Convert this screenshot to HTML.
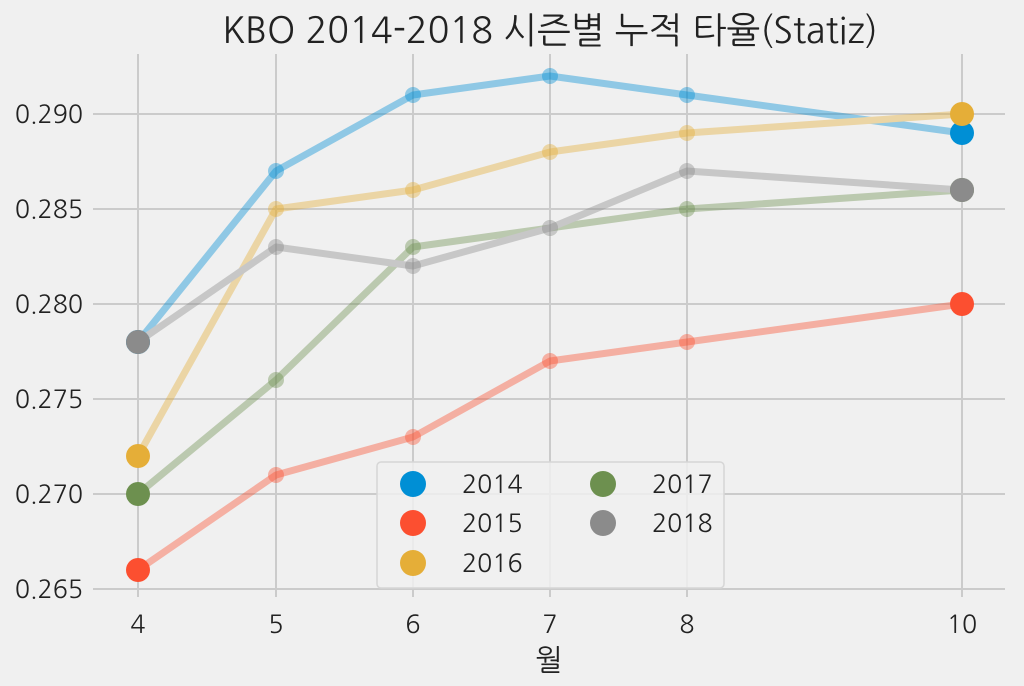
<!DOCTYPE html><html><head><meta charset="utf-8"><style>body{margin:0;background:#f0f0f0}svg{display:block}text{font-family:"NanumGothic","Liberation Sans","Noto Sans CJK KR",sans-serif;fill:#222}</style></head><body>
<svg width="1024" height="686" viewBox="0 0 1024 686">
<rect width="1024" height="686" fill="#f0f0f0"/>
<g stroke="#cbcbcb" stroke-width="2">
<line x1="93" x2="1005" y1="114" y2="114"/><line x1="93" x2="1005" y1="209" y2="209"/><line x1="93" x2="1005" y1="304" y2="304"/><line x1="93" x2="1005" y1="399" y2="399"/><line x1="93" x2="1005" y1="494" y2="494"/><line x1="93" x2="1005" y1="589" y2="589"/>
<line x1="138" x2="138" y1="54" y2="597"/><line x1="276" x2="276" y1="54" y2="597"/><line x1="413" x2="413" y1="54" y2="597"/><line x1="550" x2="550" y1="54" y2="597"/><line x1="687" x2="687" y1="54" y2="597"/><line x1="962" x2="962" y1="54" y2="597"/>
</g>
<g font-size="25" text-anchor="end"><text x="83" y="123">0.290</text><text x="83" y="218">0.285</text><text x="83" y="313">0.280</text><text x="83" y="408">0.275</text><text x="83" y="503">0.270</text><text x="83" y="598">0.265</text></g>
<g font-size="25" text-anchor="middle"><text x="138" y="633">4</text><text x="276" y="633">5</text><text x="413" y="633">6</text><text x="550" y="633">7</text><text x="687" y="633">8</text><text x="962" y="633">10</text>
<text x="549" y="670" font-size="29">월</text>
<text x="550" y="43" font-size="36">KBO 2014-2018 시즌별 누적 타율(Statiz)</text></g>
<g fill="none" stroke-width="7" stroke-linejoin="round" opacity="0.4">
<polyline stroke="#008fd5" points="138,342 276,171 413,95 550,76 687,95 962,133"/>
<polyline stroke="#fc4f30" points="138,570 276,475 413,437 550,361 687,342 962,304"/>
<polyline stroke="#e5ae38" points="138,456 276,209 413,190 550,152 687,133 962,114"/>
<polyline stroke="#6d904f" points="138,494 276,380 413,247 550,228 687,209 962,190"/>
<polyline stroke="#8b8b8b" points="138,342 276,247 413,266 550,228 687,171 962,190"/>
</g>
<g opacity="0.4">
<g fill="#008fd5"><circle cx="276" cy="171" r="8"/><circle cx="413" cy="95" r="8"/><circle cx="550" cy="76" r="8"/><circle cx="687" cy="95" r="8"/></g>
<g fill="#fc4f30"><circle cx="276" cy="475" r="8"/><circle cx="413" cy="437" r="8"/><circle cx="550" cy="361" r="8"/><circle cx="687" cy="342" r="8"/></g>
<g fill="#e5ae38"><circle cx="276" cy="209" r="8"/><circle cx="413" cy="190" r="8"/><circle cx="550" cy="152" r="8"/><circle cx="687" cy="133" r="8"/></g>
<g fill="#6d904f"><circle cx="276" cy="380" r="8"/><circle cx="413" cy="247" r="8"/><circle cx="550" cy="228" r="8"/><circle cx="687" cy="209" r="8"/></g>
<g fill="#8b8b8b"><circle cx="276" cy="247" r="8"/><circle cx="413" cy="266" r="8"/><circle cx="550" cy="228" r="8"/><circle cx="687" cy="171" r="8"/></g>
</g>
<circle cx="138" cy="342" r="12" fill="#008fd5"/><circle cx="962" cy="133" r="12" fill="#008fd5"/>
<circle cx="138" cy="570" r="12" fill="#fc4f30"/><circle cx="962" cy="304" r="12" fill="#fc4f30"/>
<circle cx="138" cy="456" r="12" fill="#e5ae38"/><circle cx="962" cy="114" r="12" fill="#e5ae38"/>
<circle cx="138" cy="494" r="12" fill="#6d904f"/><circle cx="962" cy="190" r="12" fill="#6d904f"/>
<circle cx="138" cy="342" r="12" fill="#8b8b8b"/><circle cx="962" cy="190" r="12" fill="#8b8b8b"/>
<rect x="377" y="462" width="347" height="126" rx="4" fill="#f0f0f0" fill-opacity="0.85" stroke="#d6d6d6" stroke-width="1.5"/>
<circle cx="413" cy="484" r="13" fill="#008fd5"/><circle cx="413" cy="523" r="13" fill="#fc4f30"/><circle cx="413" cy="563" r="13" fill="#e5ae38"/>
<circle cx="603" cy="484" r="13" fill="#6d904f"/><circle cx="603" cy="523" r="13" fill="#8b8b8b"/>
<g font-size="25"><text x="462" y="493">2014</text><text x="462" y="532">2015</text><text x="462" y="572">2016</text><text x="652" y="493">2017</text><text x="652" y="532">2018</text></g>
</svg></body></html>
